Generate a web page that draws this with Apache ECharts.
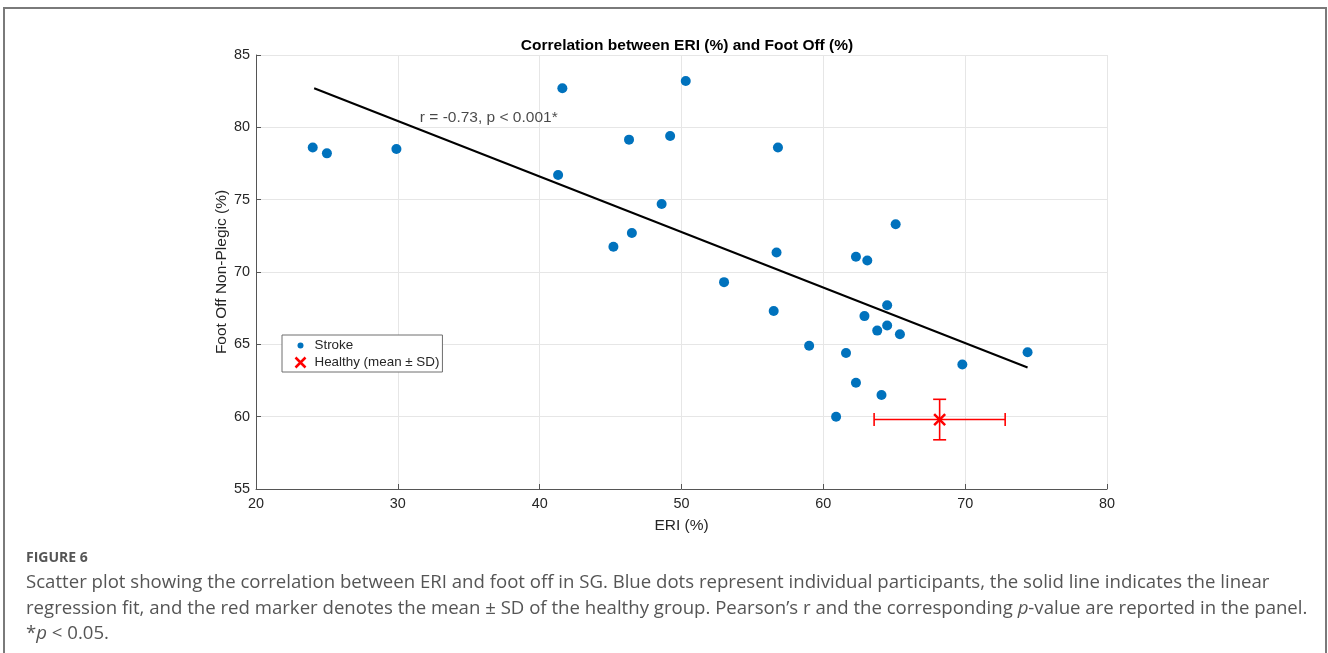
<!DOCTYPE html>
<html>
<head>
<meta charset="utf-8">
<script src="https://cdn.jsdelivr.net/npm/echarts@6/dist/echarts.min.js"></script>
<style>
  html, body { margin: 0; padding: 0; background: #fff; }
  #main { width: 1328px; height: 653px; }
</style>
</head>
<body>
<div id="main"></div>
<script>
// stroke group: [ERI %, Foot Off %]
var strokeEri = [24.0, 25.0, 29.9, 41.6, 41.3, 46.3, 49.2, 50.3, 48.6, 46.5, 45.2,
                 56.8, 56.7, 65.1, 62.3, 63.1, 53.0, 56.5, 59.0, 61.6, 62.9, 64.5,
                 64.5, 63.8, 65.4, 62.3, 64.1, 60.9, 69.8, 74.4];
var strokeFootOff = [78.6, 78.2, 78.5, 82.7, 76.7, 79.15, 79.4, 83.2, 74.7, 72.7, 71.75,
                     78.6, 71.35, 73.3, 71.05, 70.8, 69.3, 67.3, 64.9, 64.4, 66.95, 67.7,
                     66.3, 65.95, 65.7, 62.35, 61.5, 60.0, 63.6, 64.45];
// regression fit end points
var fitLine = [[24.1, 82.7], [74.4, 63.4]];
// healthy: mean ERI, mean foot off, SD ERI, SD foot off
var healthy = [68.2, 59.8, 4.62, 1.4];
var xTicks = { min: 20, max: 80, step: 10 };
var yTicks = { min: 55, max: 85, step: 5 };
var statText = 'r = -0.73, p < 0.001*';
var statPos = [31.55, 80.65];

var strokeData = strokeEri.map(function (x, i) { return [x, strokeFootOff[i]]; });

var chartDom = document.getElementById('main');
var myChart = echarts.init(chartDom);
var option;

var axisColor = '#262626';
var fontFam = '"Liberation Sans", Arial, sans-serif';
var dotIcon = 'path://M0,0M15,12M3,6a3,3 0 1,0 6,0a3,3 0 1,0 -6,0Z';
var crossIcon = 'path://M0,0M15,12M1,1L11,11M11,1L1,11';

option = {
    animation: false,
    title: {
        text: 'Correlation between ERI (%) and Foot Off (%)',
        left: 682,
        textAlign: 'center',
        top: 33,
        textStyle: { fontFamily: fontFam, fontSize: 15.5, fontWeight: 'bold', color: '#000' }
    },
    grid: { left: 256, right: 221, top: 55, bottom: 164 },
    legend: {
        left: 282,
        top: 335,
        orient: 'vertical',
        padding: [4, 3, 1, 10],
        itemGap: 2,
        itemWidth: 15,
        itemHeight: 12,
        borderColor: '#6e6e6e',
        borderWidth: 1,
        backgroundColor: '#fff',
        textStyle: { fontFamily: fontFam, fontSize: 13.4, color: axisColor },
        data: [
            { name: 'Stroke', icon: dotIcon, itemStyle: { color: '#0072BD', borderWidth: 0 } },
            { name: 'Healthy (mean ± SD)', icon: crossIcon,
              itemStyle: { color: 'none', borderColor: '#ff0000', borderWidth: 2.5 } }
        ]
    },
    xAxis: {
        type: 'value',
        min: xTicks.min, max: xTicks.max, interval: xTicks.step,
        name: 'ERI (%)',
        nameLocation: 'middle',
        nameGap: 29,
        nameMoveOverlap: false,
        nameTextStyle: { fontFamily: fontFam, fontSize: 15.5, color: axisColor },
        axisLine: { lineStyle: { color: '#555', width: 1 } },
        axisTick: { inside: true, length: 5, lineStyle: { color: '#555' } },
        axisLabel: { fontFamily: fontFam, fontSize: 14.4, color: axisColor, margin: 8 },
        splitLine: { show: true, lineStyle: { color: '#e6e6e6', width: 1 } }
    },
    yAxis: {
        type: 'value',
        min: yTicks.min, max: yTicks.max, interval: yTicks.step,
        name: 'Foot Off Non-Plegic (%)',
        nameLocation: 'middle',
        nameGap: 26,
        nameMoveOverlap: false,
        nameTextStyle: { fontFamily: fontFam, fontSize: 15.5, color: axisColor },
        axisLine: { show: true, lineStyle: { color: '#555', width: 1 } },
        axisTick: { show: true, inside: true, length: 5, lineStyle: { color: '#555' } },
        axisLabel: { fontFamily: fontFam, fontSize: 14.4, color: axisColor, margin: 6 },
        splitLine: { show: true, lineStyle: { color: '#e6e6e6', width: 1 } }
    },
    series: [
        {
            name: 'fit',
            type: 'line',
            data: fitLine,
            symbol: 'none',
            silent: true,
            lineStyle: { color: '#000', width: 2 },
            z: 2
        },
        {
            name: 'Stroke',
            type: 'scatter',
            data: strokeData,
            symbol: 'circle',
            symbolSize: 10,
            itemStyle: { color: '#0072BD', opacity: 1 },
            z: 3
        },
        {
            name: 'sd',
            type: 'custom',
            data: [healthy],
            silent: true,
            z: 4,
            renderItem: function (params, api) {
                var x = api.value(0), y = api.value(1), sx = api.value(2), sy = api.value(3);
                var l = api.coord([x - sx, y]), r = api.coord([x + sx, y]);
                var t = api.coord([x, y + sy]), b = api.coord([x, y - sy]);
                var c = 6.5;
                var st = { stroke: '#ff0000', lineWidth: 1.6 };
                function seg(x1, y1, x2, y2) {
                    return { type: 'line', shape: { x1: x1, y1: y1, x2: x2, y2: y2 }, style: st };
                }
                return {
                    type: 'group',
                    children: [
                        seg(l[0], l[1], r[0], r[1]),
                        seg(t[0], t[1], b[0], b[1]),
                        seg(l[0], l[1] - c, l[0], l[1] + c),
                        seg(r[0], r[1] - c, r[0], r[1] + c),
                        seg(t[0] - c, t[1], t[0] + c, t[1]),
                        seg(b[0] - c, b[1], b[0] + c, b[1])
                    ]
                };
            }
        },
        {
            name: 'Healthy (mean ± SD)',
            type: 'scatter',
            data: [[healthy[0], healthy[1]]],
            symbol: 'path://M0,0L10,10M10,0L0,10',
            symbolSize: 11,
            itemStyle: { color: 'none', borderColor: '#ff0000', borderWidth: 2.5, opacity: 1 },
            z: 5
        },
        {
            name: 'stat',
            type: 'scatter',
            data: [statPos],
            symbolSize: 0,
            silent: true,
            label: {
                show: true,
                position: 'right',
                distance: 0,
                formatter: statText,
                fontFamily: fontFam,
                fontSize: 15.5,
                color: '#1a1a1a'
            }
        }
    ],
    graphic: [
        {
            type: 'rect',
            shape: { x: 4, y: 8, width: 1322, height: 700 },
            style: { fill: 'none', stroke: '#7a7a7a', lineWidth: 2 },
            silent: true
        },
        {
            type: 'text',
            left: 26,
            top: 551,
            style: {
                text: 'FIGURE 6',
                font: 'bold 14px "Open Sans", sans-serif',
                fill: '#555'
            }
        },
        {
            type: 'text',
            left: 26,
            top: 570,
            style: {
                text: 'Scatter plot showing the correlation between ERI and foot off in SG. Blue dots represent individual participants, the solid line indicates the linear\n' +
                      'regression fit, and the red marker denotes the mean \u00b1 SD of the healthy group. Pearson\u2019s r and the corresponding {i|p}-value are reported in the panel.\n' +
                      '*{i|p} < 0.05.',
                font: '18.6px "Open Sans", sans-serif',
                lineHeight: 25.5,
                fill: '#555',
                rich: {
                    i: { fontStyle: 'italic', fontFamily: '"Open Sans", sans-serif', fontSize: 18.6, lineHeight: 25.5, color: '#555' }
                }
            }
        }
    ]
};

option && myChart.setOption(option);
</script>
</body>
</html>
